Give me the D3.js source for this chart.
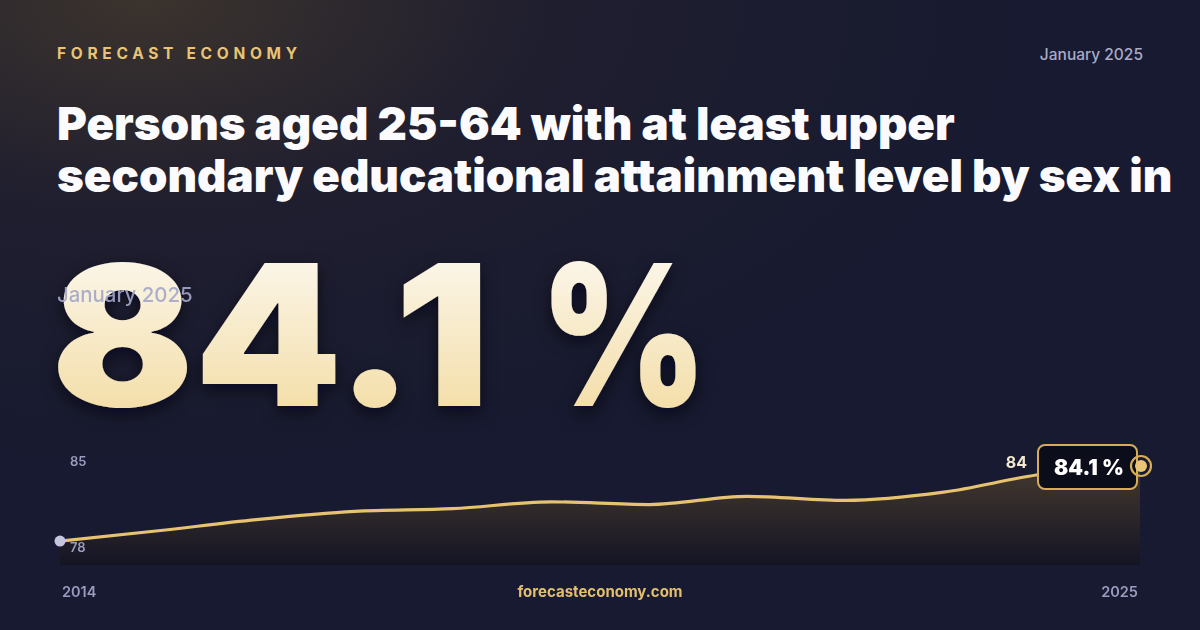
<!DOCTYPE html>
<html>
<head>
<meta charset="utf-8">
<script src="https://cdn.jsdelivr.net/npm/d3@7"></script>
<style>
  html, body { margin: 0; padding: 0; background: #171a30; }
  svg { display: block; font-family: Inter, "Noto Sans", sans-serif; }
</style>
</head>
<body>
<svg id="card" width="1200" height="630"></svg>
<script>
// data
const years = [2014, 2015, 2016, 2017, 2018, 2019, 2020, 2021, 2022, 2023, 2024, 2025];
const values = [78.65, 79.4, 80.2, 80.8, 81.0, 81.5, 81.3, 81.9, 81.6, 82.2, 83.5, 84.1];
const yTicks = [85, 78];
const xTicks = [2014, 2025];
const latest = 84.1;
const dateLabel = "January 2025";
const titleLines = ["Persons aged 25-64 with at least upper", "secondary educational attainment level by sex in"];

const svg = d3.select("#card");
const W = 1200, H = 630;
const defs = svg.append("defs");

// background glow
const bg = defs.append("radialGradient").attr("id", "bg")
  .attr("cx", 0.12).attr("cy", 0).attr("r", 0.75)
  .attr("gradientUnits", "objectBoundingBox");
bg.append("stop").attr("offset", "0%").attr("stop-color", "#3b332d");
bg.append("stop").attr("offset", "45%").attr("stop-color", "#1f1e2f");
bg.append("stop").attr("offset", "100%").attr("stop-color", "#171a30");
svg.append("rect").attr("width", W).attr("height", H).attr("fill", "#171a30");
svg.append("rect").attr("width", W).attr("height", H).attr("fill", "url(#bg)");

const numGrad = defs.append("linearGradient").attr("id", "num").attr("x1", 0).attr("x2", 0).attr("y1", 0).attr("y2", 1);
numGrad.append("stop").attr("offset", "0%").attr("stop-color", "#fdfcf9");
numGrad.append("stop").attr("offset", "100%").attr("stop-color", "#f2d898");

const areaGrad = defs.append("linearGradient").attr("id", "area").attr("x1", 0).attr("x2", 0).attr("y1", 0).attr("y2", 1);
areaGrad.append("stop").attr("offset", "0%").attr("stop-color", "#45392f");
areaGrad.append("stop").attr("offset", "100%").attr("stop-color", "#141424");

const shadow = defs.append("filter").attr("id", "shadow").attr("x", "-10%").attr("y", "-10%").attr("width", "120%").attr("height", "130%");
shadow.append("feDropShadow").attr("dx", 0).attr("dy", 6).attr("stdDeviation", 8)
  .attr("flood-color", "#05060f").attr("flood-opacity", 0.6);

// header
svg.append("text").attr("x", 57).attr("y", 59)
  .attr("font-size", 15.5).attr("font-weight", 700).attr("letter-spacing", 4.7)
  .attr("fill", "#e8c474").text("FORECAST ECONOMY");
svg.append("text").attr("x", 1143).attr("y", 60).attr("text-anchor", "end")
  .attr("font-size", 15.5).attr("font-weight", 500).attr("fill", "#a9abc8").text(dateLabel);

svg.append("g").selectAll("text").data(titleLines).join("text")
  .attr("x", 57).attr("y", (d, i) => 140 + i * 52)
  .attr("font-size", 45.6).attr("font-weight", 900)
  .attr("fill", "#fbfbfd").text(d => d);

// big number, the two parts stretched to the widths seen in the reference
const bigParts = [d3.format(".1f")(latest), "%"];
const bigSpans = [[51, 490], [540, 707]];
const big = svg.append("g").attr("filter", "url(#shadow)");
bigParts.forEach((t, i) => {
  const el = big.append("text").attr("x", 0).attr("y", 406)
    .attr("font-size", 196).attr("font-weight", 900)
    .attr("fill", "url(#num)").text(t);
  const b = el.node().getBBox();
  const [x0, x1] = bigSpans[i];
  const s = (x1 - x0) / b.width;
  el.attr("transform", `translate(${x0 - b.x * s},0) scale(${s},1)`);
});
svg.append("text").attr("x", 57).attr("y", 302)
  .attr("font-size", 20.4).attr("font-weight", 500).attr("fill", "#a4a7c9").attr("opacity", 0.9)
  .text(dateLabel);

// chart
const x = d3.scaleLinear().domain(d3.extent(years)).range([60, 1140]);
const y = d3.scaleLinear().domain([78, 84.1]).range([550, 466]);
const base = 565;
const pts = years.map((yr, i) => [yr, values[i]]);

svg.append("path").datum(pts)
  .attr("fill", "url(#area)")
  .attr("d", d3.area().curve(d3.curveMonotoneX).x(d => x(d[0])).y0(base).y1(d => y(d[1])));
svg.append("path").datum(pts)
  .attr("fill", "none").attr("stroke", "#e6c271").attr("stroke-width", 3.2)
  .attr("d", d3.line().curve(d3.curveMonotoneX).x(d => x(d[0])).y(d => y(d[1])));

svg.append("circle").attr("cx", x(years[0])).attr("cy", y(values[0])).attr("r", 5.5).attr("fill", "#c3c6dd");

// y labels
svg.append("g").selectAll("text").data(yTicks).join("text")
  .attr("x", 70).attr("y", (d, i) => i === 0 ? 466 : 552)
  .attr("font-size", 13).attr("font-weight", 600).attr("fill", "#9a9dbf").text(d => d);

// x labels
svg.append("g").selectAll("text").data(xTicks).join("text")
  .attr("x", (d, i) => i === 0 ? x(d) + 2 : x(d) - 2)
  .attr("y", 597).attr("text-anchor", (d, i) => i === 0 ? "start" : "end")
  .attr("font-size", 14.5).attr("font-weight", 600).attr("fill", "#9a9dbf").text(d => d);

svg.append("text").attr("x", 600).attr("y", 597).attr("text-anchor", "middle")
  .attr("font-size", 15).attr("font-weight", 700).attr("fill", "#e3bf6e").text("forecasteconomy.com");

// latest value callout
const lx = x(years[years.length - 1]), ly = y(values[values.length - 1]);
svg.append("text").attr("x", lx - 113).attr("y", 468).attr("text-anchor", "end")
  .attr("font-size", 16).attr("font-weight", 700).attr("fill", "#f2e8cf")
  .text(Math.round(latest));
svg.append("rect").attr("x", lx - 102).attr("y", 445).attr("width", 99).attr("height", 44).attr("rx", 7)
  .attr("fill", "#0b0d1b").attr("stroke", "#d6ad55").attr("stroke-width", 2);
svg.append("text").attr("x", lx - 51).attr("y", 475).attr("text-anchor", "middle")
  .attr("font-size", 21).attr("font-weight", 900).attr("fill", "#ffffff")
  .text(d3.format(".1f")(latest) + " %");
svg.append("circle").attr("cx", lx + 1).attr("cy", ly).attr("r", 10)
  .attr("fill", "none").attr("stroke", "#d6ad55").attr("stroke-width", 2.2);
svg.append("circle").attr("cx", lx + 1).attr("cy", ly).attr("r", 6).attr("fill", "#e8c474");
</script>
</body>
</html>
